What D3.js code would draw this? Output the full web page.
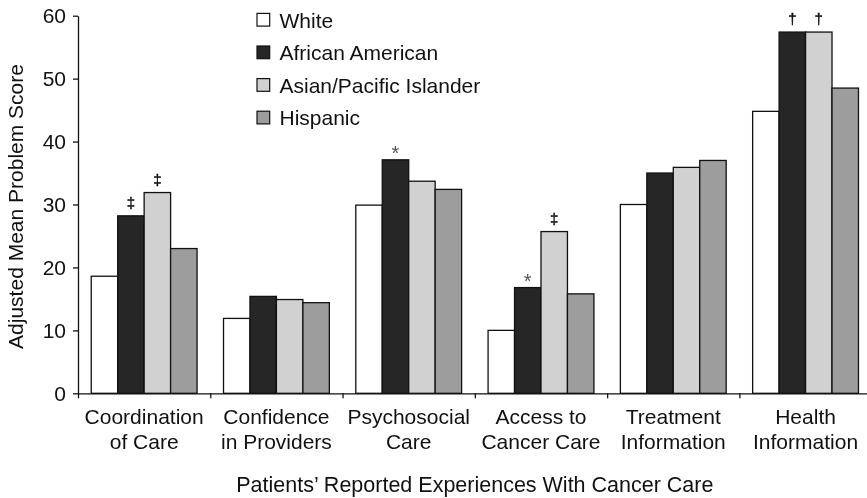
<!DOCTYPE html>
<html>
<head>
<meta charset="utf-8">
<script src="https://cdn.jsdelivr.net/npm/d3@7"></script>
<style>
  html, body { margin: 0; padding: 0; background: #fff; }
  svg { display: block; will-change: transform; }
  text { font-family: "Liberation Sans", Arial, Helvetica, sans-serif; fill: #111; }
</style>
</head>
<body>
<svg id="chart" width="867" height="498"></svg>
<script>
// Patient-reported problem scores by race/ethnicity
const categories = [
  ["Coordination", "of Care"],
  ["Confidence", "in Providers"],
  ["Psychosocial", "Care"],
  ["Access to", "Cancer Care"],
  ["Treatment", "Information"],
  ["Health", "Information"]
];
const seriesNames = ["White", "African American", "Asian/Pacific Islander", "Hispanic"];
const white    = [18.6, 11.9, 29.9, 10.0, 30.0, 44.8];
const african  = [28.2, 15.4, 37.1, 16.8, 35.0, 57.4];
const asian    = [31.9, 14.9, 33.7, 25.7, 35.9, 57.4];
const hispanic = [23.0, 14.4, 32.4, 15.8, 37.0, 48.5];
// significance markers per series and category ("" = none)
const markWhite    = ["", "", "", "", "", ""];
const markAfrican  = ["\u2021", "", "*", "*", "", "\u2020"];
const markAsian    = ["\u2021", "", "", "\u2021", "", "\u2020"];
const markHispanic = ["", "", "", "", "", ""];
const yTicks = [0, 10, 20, 30, 40, 50, 60];
const yTitle = "Adjusted Mean Problem Score";
const xTitle = "Patients\u2019 Reported Experiences With Cancer Care";

const seriesValues = [white, african, asian, hispanic];
const seriesMarks = [markWhite, markAfrican, markAsian, markHispanic];
const colors = ["#ffffff", "#262626", "#d0d1d0", "#9d9d9d"];

const svg = d3.select("#chart");
const plotLeft = 78, plotRight = 871.7, plotTop = 15.7, plotBottom = 393.3;
const fontSize = "21px";

const x0 = d3.scaleBand().domain(d3.range(categories.length)).range([plotLeft, plotRight]).paddingInner(0).paddingOuter(0);
const bw = x0.bandwidth();
const x1 = d3.scaleBand().domain(d3.range(seriesNames.length)).range([bw * 0.1, bw * 0.9]).padding(0);
const y = d3.scaleLinear().domain([0, 60]).range([plotBottom, plotTop]);

// bars
const groups = svg.append("g").selectAll("g")
  .data(categories.map((c, i) => i))
  .join("g")
  .attr("transform", i => `translate(${x0(i)},0)`);

groups.selectAll("rect")
  .data(i => seriesNames.map((s, j) => ({ j, v: seriesValues[j][i], m: seriesMarks[j][i] })))
  .join("rect")
  .attr("x", d => x1(d.j))
  .attr("y", d => y(d.v))
  .attr("width", x1.bandwidth())
  .attr("height", d => y(0) - y(d.v))
  .attr("fill", d => colors[d.j])
  .attr("stroke", "#111")
  .attr("stroke-width", 1.3);

// significance markers
groups.selectAll("text.mark")
  .data(i => seriesNames.map((s, j) => ({ j, v: seriesValues[j][i], m: seriesMarks[j][i] })).filter(d => d.m))
  .join("text")
  .attr("class", "mark")
  .attr("x", d => x1(d.j) + x1.bandwidth() / 2)
  .attr("y", d => y(d.v) - (d.m === "*" ? -0.5 : 8))
  .attr("text-anchor", "middle")
  .style("font-size", d => d.m === "*" ? "20px" : "15px")
  .style("fill", d => d.m === "*" ? "#555" : "#111")
  .style("stroke", d => d.m === "*" ? "none" : "#111")
  .style("stroke-width", 0.4)
  .text(d => d.m);

// y axis
const yAxis = svg.append("g")
  .attr("transform", `translate(${plotLeft},0)`)
  .call(d3.axisLeft(y).tickValues(yTicks).tickSize(5).tickSizeOuter(0).tickPadding(7));
yAxis.selectAll("text").style("font-size", fontSize).style("fill", "#111");
yAxis.selectAll("line, path").attr("stroke", "#111").attr("stroke-width", 1.3);

// x axis: baseline with ticks at group boundaries
const xb = d3.scaleLinear().domain([0, categories.length]).range([plotLeft, plotRight]);
const xAxis = svg.append("g")
  .attr("transform", `translate(0,${plotBottom})`)
  .call(d3.axisBottom(xb).tickValues(d3.range(categories.length + 1)).tickSize(5).tickSizeOuter(0).tickFormat(""));
xAxis.selectAll("line, path").attr("stroke", "#111").attr("stroke-width", 1.3);

// category labels
const catLabels = svg.append("g").selectAll("text")
  .data(categories)
  .join("text")
  .attr("text-anchor", "middle")
  .attr("x", (c, i) => x0(i) + bw / 2)
  .attr("y", 424)
  .style("font-size", fontSize);
catLabels.selectAll("tspan")
  .data(c => c)
  .join("tspan")
  .attr("x", function () { return d3.select(this.parentNode).attr("x"); })
  .attr("dy", (t, k) => k === 0 ? 0 : 25)
  .text(t => t);

// axis titles
svg.append("text")
  .attr("x", (plotLeft + plotRight) / 2)
  .attr("y", 491.5)
  .attr("text-anchor", "middle")
  .style("font-size", "21.5px")
  .text(xTitle);

svg.append("text")
  .attr("transform", `translate(23,${(plotTop + plotBottom) / 2 + 2}) rotate(-90)`)
  .attr("text-anchor", "middle")
  .style("font-size", fontSize)
  .text(yTitle);

// legend
const legend = svg.append("g").attr("transform", "translate(257,0)");
const rows = legend.selectAll("g")
  .data(seriesNames)
  .join("g")
  .attr("transform", (s, j) => `translate(0,${19.7 + j * 32.6})`);
rows.append("rect")
  .attr("x", 0).attr("y", -6.3)
  .attr("width", 12.7).attr("height", 12.7)
  .attr("fill", (s, j) => colors[j])
  .attr("stroke", "#111")
  .attr("stroke-width", 1.2);
rows.append("text")
  .attr("x", 22.5)
  .attr("y", 7.8)
  .style("font-size", fontSize)
  .text(s => s);
</script>
</body>
</html>
